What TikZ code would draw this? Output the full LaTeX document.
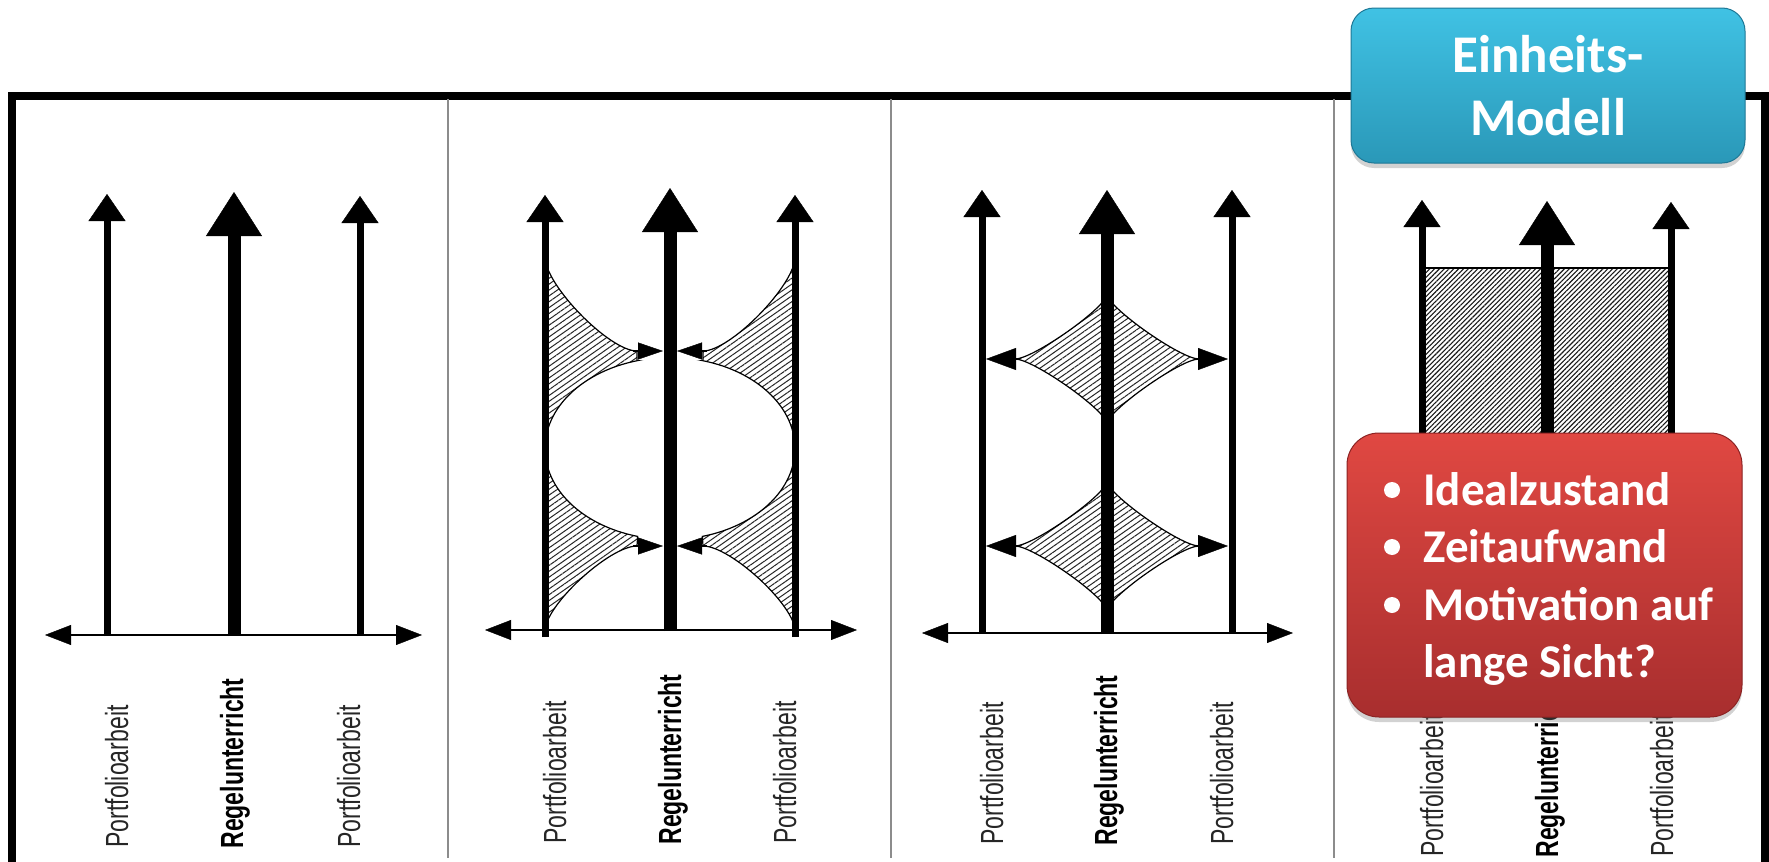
\documentclass[tikz,border=0pt]{standalone}
\usepackage{fontspec}
\usetikzlibrary{arrows.meta,patterns.meta,shadows}
\newfontfamily\labelfont[FakeStretch=0.72]{Liberation Sans}
\newfontfamily\boxfont{Carlito}
\definecolor{bluetop}{RGB}{64,194,228}
\definecolor{bluebot}{RGB}{42,152,184}
\definecolor{blueedge}{RGB}{30,120,150}
\definecolor{redtop}{RGB}{224,72,66}
\definecolor{redbot}{RGB}{168,46,46}
\definecolor{rededge}{RGB}{140,35,35}
\begin{document}
\begin{tikzpicture}[x=0.5pt,y=-0.5pt,
  thinarrow/.style={line width=3.5pt,-{Triangle[length=13.5pt 0 0,width=18.5pt 0 0,line width=0.2pt 0 0]}},
  thickarrow/.style={line width=6.5pt,-{Triangle[length=22pt 0 0,width=28pt 0 0,line width=0.2pt 0 0]}},
  axisarrow/.style={line width=1pt,{Triangle[length=13pt 0 0,width=10pt 0 0,line width=0.2pt 0 0]}-{Triangle[length=13pt 0 0,width=10pt 0 0,line width=0.2pt 0 0]}},
  smallarrowA/.style={line width=0.8pt,-{Triangle[length=12.5pt 0 0,width=8.5pt 0 0,line width=0.2pt 0 0]}},
  smallarrowB/.style={line width=0.8pt,-{Triangle[length=15pt 0 0,width=11pt 0 0,line width=0.2pt 0 0]}},
  hatchA/.style={draw=black,line width=0.6pt,pattern={Lines[angle=35,distance=2.4pt,line width=0.5pt]},pattern color=black!85},
  hatchB/.style={draw=black,line width=0.6pt,pattern={Lines[angle=45,distance=1.7pt,line width=0.55pt]},pattern color=black!90},
  lbl/.style={rotate=90,anchor=base west,inner sep=0pt,text=black!85,font=\labelfont\fontsize{16}{18}\selectfont},
  lblbold/.style={lbl,text=black,font=\labelfont\bfseries\fontsize{16}{18}\selectfont},
  divider/.style={line width=1pt,draw=black!45},
  bluebox/.style={rounded corners=11.5pt,minimum width=197pt,minimum height=77.5pt,inner sep=0pt,
    top color=bluetop,bottom color=bluebot,draw=blueedge,line width=0.5pt,
    drop shadow={shadow xshift=0pt,shadow yshift=-2.5pt,opacity=0.35},
    text=white,align=center,font=\boxfont\bfseries\fontsize{26.5}{31.5}\selectfont},
  redbox/.style={rounded corners=16pt,minimum width=197.5pt,minimum height=142pt,inner sep=0pt,
    top color=redtop,bottom color=redbot,draw=rededge,line width=0.5pt,
    drop shadow={shadow xshift=0pt,shadow yshift=-2.5pt,opacity=0.35}},
  redtext/.style={anchor=base west,inner sep=0pt,text=white,font=\boxfont\bfseries\fontsize{23.5}{28}\selectfont},
  bullet/.style={circle,fill=white,minimum size=8pt,inner sep=0pt}
]
\useasboundingbox (0,0) rectangle (1769,862);
\fill[white] (0,0) rectangle (1769,862);

% ---------- outer frame and dividers ----------
\draw[line width=4pt] (12,95.5) rectangle (1764.5,866);
\coordinate (d1t) at (448,99);  \coordinate (d1b) at (448,858);
\coordinate (d2t) at (891,99);  \coordinate (d2b) at (891,858);
\coordinate (d3t) at (1334,99); \coordinate (d3b) at (1334,858);
\draw[divider] (d1t) -- (d1b);
\draw[divider] (d2t) -- (d2b);
\draw[divider] (d3t) -- (d3b);

% ---------- panel 1 ----------
\coordinate (a1L) at (107,636); \coordinate (t1L) at (107,194);
\coordinate (a1C) at (234,636); \coordinate (t1C) at (234,192);
\coordinate (a1R) at (360,636); \coordinate (t1R) at (360,196);
\coordinate (x1W) at (45,635);  \coordinate (x1E) at (422,635);
\draw[axisarrow] (x1W) -- (x1E);
\draw[thinarrow] (a1L) -- (t1L);
\draw[thickarrow] (a1C) -- (t1C);
\draw[thinarrow] (a1R) -- (t1R);
\node[lbl] (l1L) at (128,848) {Portfolioarbeit};
\node[lblbold] (l1C) at (243,849) {Regelunterricht};
\node[lbl] (l1R) at (360,848) {Portfolioarbeit};

% ---------- panel 2 ----------
\filldraw[hatchA] (545,257) .. controls (545,285) and (609.4,351) .. (637,351)
  -- (637,360.6) -- plot[domain=255:180,samples=30] ({670+125*cos(\x)},{448.5+91*sin(\x)}) -- cycle;
\filldraw[hatchA] (545,448.5) -- plot[domain=180:105,samples=30] ({670+125*cos(\x)},{448.5+91*sin(\x)})
  -- (637,546) .. controls (609.4,546) and (545,605.5) .. (545,631) -- cycle;
\filldraw[hatchA] (795,257) .. controls (795,285) and (730.6,351) .. (703,351)
  -- (703,360.6) -- plot[domain=285:360,samples=30] ({670+125*cos(\x)},{448.5+91*sin(\x)}) -- cycle;
\filldraw[hatchA] (795,448.5) -- plot[domain=0:75,samples=30] ({670+125*cos(\x)},{448.5+91*sin(\x)})
  -- (703,546) .. controls (730.6,546) and (795,605.5) .. (795,631) -- cycle;
\coordinate (a2L) at (545,637); \coordinate (t2L) at (545,195);
\coordinate (a2C) at (670,631); \coordinate (t2C) at (670,188);
\coordinate (a2R) at (795,637); \coordinate (t2R) at (795,195);
\coordinate (x2W) at (485,630); \coordinate (x2E) at (857,630);
\draw[axisarrow] (x2W) -- (x2E);
\draw[thinarrow] (a2L) -- (t2L);
\draw[thickarrow] (a2C) -- (t2C);
\draw[thinarrow] (a2R) -- (t2R);
\coordinate (s2a) at (633,351); \coordinate (s2b) at (663,351);
\coordinate (s2c) at (707,351); \coordinate (s2d) at (677,351);
\coordinate (s2e) at (633,546); \coordinate (s2f) at (663,546);
\coordinate (s2g) at (707,546); \coordinate (s2h) at (677,546);
\draw[smallarrowA] (s2a) -- (s2b);
\draw[smallarrowA] (s2c) -- (s2d);
\draw[smallarrowA] (s2e) -- (s2f);
\draw[smallarrowA] (s2g) -- (s2h);
\node[lbl] (l2L) at (566,844) {Portfolioarbeit};
\node[lblbold] (l2C) at (681,845) {Regelunterricht};
\node[lbl] (l2R) at (796,844) {Portfolioarbeit};

% ---------- panel 3 ----------
\foreach \cy in {359,546}{
  \filldraw[hatchA] (1015,\cy) .. controls (1033.4,\cy) and (1107,{\cy-52}) .. (1107,{\cy-65})
    .. controls (1107,{\cy-52}) and (1180.6,\cy) .. (1199,\cy)
    .. controls (1180.6,\cy) and (1107,{\cy+52}) .. (1107,{\cy+65})
    .. controls (1107,{\cy+52}) and (1033.4,\cy) .. (1015,\cy) -- cycle;
}
\coordinate (a3L) at (982,634); \coordinate (t3L) at (982,190);
\coordinate (a3C) at (1107,634); \coordinate (t3C) at (1107,190);
\coordinate (a3R) at (1232,634); \coordinate (t3R) at (1232,190);
\coordinate (x3W) at (922,633); \coordinate (x3E) at (1293,633);
\draw[axisarrow] (x3W) -- (x3E);
\draw[thinarrow] (a3L) -- (t3L);
\draw[thickarrow] (a3C) -- (t3C);
\draw[thinarrow] (a3R) -- (t3R);
\coordinate (s3a) at (1018,359); \coordinate (s3b) at (986,359);
\coordinate (s3c) at (1196,359); \coordinate (s3d) at (1228,359);
\coordinate (s3e) at (1018,546); \coordinate (s3f) at (986,546);
\coordinate (s3g) at (1196,546); \coordinate (s3h) at (1228,546);
\draw[smallarrowB] (s3a) -- (s3b);
\draw[smallarrowB] (s3c) -- (s3d);
\draw[smallarrowB] (s3e) -- (s3f);
\draw[smallarrowB] (s3g) -- (s3h);
\node[lbl] (l3L) at (1003,845) {Portfolioarbeit};
\node[lblbold] (l3C) at (1117,846) {Regelunterricht};
\node[lbl] (l3R) at (1233,845) {Portfolioarbeit};

% ---------- panel 4 ----------
\filldraw[hatchB] (1422,268) rectangle (1671,700);
\coordinate (a4L) at (1422,700); \coordinate (t4L) at (1422,200);
\coordinate (a4C) at (1547,700); \coordinate (t4C) at (1547,201);
\coordinate (a4R) at (1671,700); \coordinate (t4R) at (1671,202);
\draw[thinarrow] (a4L) -- (t4L);
\draw[thickarrow] (a4C) -- (t4C);
\draw[thinarrow] (a4R) -- (t4R);
\node[lbl] (l4L) at (1443,857) {Portfolioarbeit};
\node[lblbold] (l4C) at (1558,858) {Regelunterricht};
\node[lbl] (l4R) at (1673,857) {Portfolioarbeit};

% ---------- boxes ----------
\node[bluebox] (einheit) at (1548,85.5) {Einheits-\\Modell};
\node[redbox] (probleme) at (1544.5,575) {};
\node[bullet] (b1) at (1392,490) {};
\node[bullet] (b2) at (1392,547) {};
\node[bullet] (b3) at (1392,605) {};
\node[redtext] (r1) at (1423,505) {Idealzustand};
\node[redtext] (r2) at (1423,562) {Zeitaufwand};
\node[redtext] (r3) at (1423,620) {Motivation auf};
\node[redtext] (r4) at (1423,677) {lange Sicht?};
\end{tikzpicture}
\end{document}
